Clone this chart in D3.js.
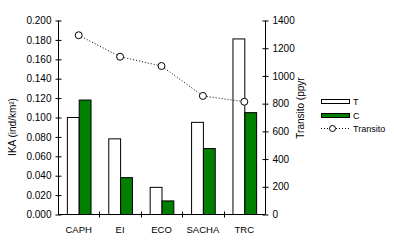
<!DOCTYPE html>
<html>
<head>
<meta charset="utf-8">
<script src="https://cdn.jsdelivr.net/npm/d3@7"></script>
<style>
  body { margin: 0; background: #fff; }
  svg text { font-family: Arial, "Liberation Sans", sans-serif; fill: #000; }
</style>
</head>
<body>
<svg id="chart" width="394" height="247"></svg>
<script>
// chart data
const categories = ["CAPH", "EI", "ECO", "SACHA", "TRC"];
const seriesT = [0.100, 0.078, 0.028, 0.095, 0.181];
const seriesC = [0.118, 0.038, 0.014, 0.068, 0.105];
const transito = [1290, 1135, 1068, 852, 810];
const leftTicks = [0, 0.02, 0.04, 0.06, 0.08, 0.10, 0.12, 0.14, 0.16, 0.18, 0.20];
const rightTicks = [0, 200, 400, 600, 800, 1000, 1200, 1400];

const svg = d3.select("#chart");
const plot = { left: 58, right: 265, top: 20, bottom: 214 };

const x = d3.scaleBand()
    .domain(categories)
    .range([plot.left, plot.right]);

const xs = d3.scaleBand()
    .domain(["T", "C"])
    .range([0, x.bandwidth()])
    .paddingOuter(0.75)
    .paddingInner(0);

const yL = d3.scaleLinear().domain([0, 0.2]).range([plot.bottom, plot.top]);
const yR = d3.scaleLinear().domain([0, 1400]).range([plot.bottom, plot.top]);

// bars
const groups = svg.append("g").selectAll("g")
    .data(categories)
    .join("g")
    .attr("transform", d => `translate(${x(d)},0)`);

groups.append("rect")
    .attr("x", xs("T") + 0.5)
    .attr("y", (d, i) => yL(seriesT[i]) + 0.5)
    .attr("width", xs.bandwidth())
    .attr("height", (d, i) => yL(0) - yL(seriesT[i]))
    .attr("fill", "#fff")
    .attr("stroke", "#000")
    .attr("stroke-width", 1);

groups.append("rect")
    .attr("x", xs("C") + 0.5)
    .attr("y", (d, i) => yL(seriesC[i]) + 0.5)
    .attr("width", xs.bandwidth())
    .attr("height", (d, i) => yL(0) - yL(seriesC[i]))
    .attr("fill", "#007f00")
    .attr("stroke", "#000")
    .attr("stroke-width", 1);

// left axis
const leftAxis = svg.append("g")
    .attr("transform", `translate(${plot.left + 0.5},0.5)`)
    .call(d3.axisLeft(yL).tickValues(leftTicks).tickFormat(d3.format(".3f")).tickSize(3).tickPadding(4));
leftAxis.selectAll(".tick line").attr("x2", 3).attr("x1", -3);

// right axis
const rightAxis = svg.append("g")
    .attr("transform", `translate(${plot.right + 0.5},0.5)`)
    .call(d3.axisRight(yR).tickValues(rightTicks).tickFormat(d3.format("d")).tickSize(3).tickPadding(4));
rightAxis.selectAll(".tick line").attr("x1", -3).attr("x2", 3);

[leftAxis, rightAxis].forEach(a => {
  a.select(".domain").attr("d", `M0,${plot.top}V${plot.bottom}`);
  a.selectAll("text").attr("font-size", 10).attr("font-family", "Arial, 'Liberation Sans', sans-serif");
});

// bottom axis
const bottom = svg.append("g").attr("transform", `translate(0,${plot.bottom + 0.5})`);
bottom.append("line")
    .attr("x1", plot.left).attr("x2", plot.right)
    .attr("stroke", "#000");
bottom.selectAll(".sep")
    .data(categories.slice(1))
    .join("line")
    .attr("x1", d => Math.round(x(d)) + 0.5)
    .attr("x2", d => Math.round(x(d)) + 0.5)
    .attr("y1", -3).attr("y2", 3)
    .attr("stroke", "#000");
bottom.selectAll("text")
    .data(categories)
    .join("text")
    .attr("x", d => x(d) + x.bandwidth() / 2)
    .attr("y", 18)
    .attr("text-anchor", "middle")
    .attr("font-size", 9.5)
    .text(d => d);

// transito line
const line = d3.line()
    .x((d, i) => x(categories[i]) + x.bandwidth() / 2)
    .y(d => yR(d));

svg.append("path")
    .datum(transito)
    .attr("d", line)
    .attr("fill", "none")
    .attr("stroke", "#000")
    .attr("stroke-width", 1)
    .attr("stroke-dasharray", "1,2");

svg.append("g").selectAll("circle")
    .data(transito)
    .join("circle")
    .attr("cx", (d, i) => x(categories[i]) + x.bandwidth() / 2)
    .attr("cy", d => yR(d))
    .attr("r", 3.5)
    .attr("fill", "#fff")
    .attr("stroke", "#000");

// axis titles
svg.append("text")
    .attr("transform", "translate(16,127)rotate(-90)")
    .attr("text-anchor", "middle")
    .attr("font-size", 10)
    .text("IKA (ind/km²)");

svg.append("text")
    .attr("transform", "translate(304,108)rotate(-90)")
    .attr("text-anchor", "middle")
    .attr("font-size", 10)
    .text("Transito (ppyr");

// legend
const legend = svg.append("g").attr("transform", "translate(321,0)");
legend.append("rect").attr("x", 0.5).attr("y", 99.5).attr("width", 28).attr("height", 4)
    .attr("fill", "#fff").attr("stroke", "#000");
legend.append("text").attr("x", 32).attr("y", 105).attr("font-size", 9).text("T");
legend.append("rect").attr("x", 0.5).attr("y", 113.5).attr("width", 28).attr("height", 4)
    .attr("fill", "#007f00").attr("stroke", "#000");
legend.append("text").attr("x", 32).attr("y", 119).attr("font-size", 9).text("C");
legend.append("line").attr("x1", 0).attr("x2", 29).attr("y1", 128.5).attr("y2", 128.5)
    .attr("stroke", "#000").attr("stroke-dasharray", "1,2");
legend.append("circle").attr("cx", 11.5).attr("cy", 128.5).attr("r", 3)
    .attr("fill", "#fff").attr("stroke", "#000");
legend.append("text").attr("x", 32).attr("y", 132).attr("font-size", 9).text("Transito");
</script>
</body>
</html>
